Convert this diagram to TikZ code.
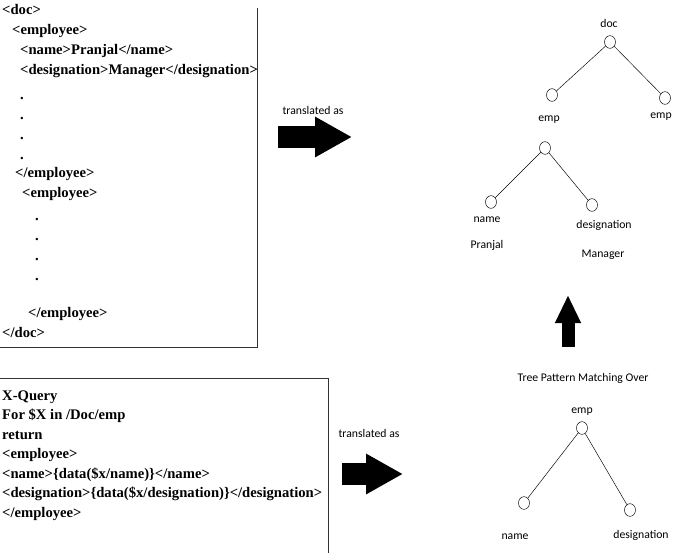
\documentclass[tikz,border=0pt]{standalone}
\usepackage{fontspec}
\setmainfont{Liberation Serif}
\newfontfamily\calib{Carlito}
\usetikzlibrary{shapes.geometric,arrows.meta}
\tikzset{
  code/.style={anchor=mid west, inner sep=0pt, font=\bfseries\fontsize{12.5}{14}\selectfont},
  lbl/.style={inner sep=0pt, font=\calib\fontsize{10}{12}\selectfont},
  knot/.style={draw, ellipse, minimum width=0.33cm, minimum height=0.38cm, inner sep=0pt, thin},
  edge/.style={draw, thin},
  blkarrow/.style={line width=0.66cm, -{Triangle[length=1.11cm, width=1.14cm]}},
}

\begin{document}
\begin{tikzpicture}[x=0.03cm, y=-0.03cm]
\useasboundingbox (0,0) rectangle (674,552);

% XML文書
\draw[black!80] (0,347) -| (257,8);
\node[code] (x1) at (2,12) {<doc>};
\node[code] (x2) at (12,32) {<employee>};
\node[code] (x3) at (20,52) {<name>Pranjal</name>};
\node[code] (x4) at (20,72) {<designation>Manager</designation>};
\node[code] (x5) at (20,97) {.};
\node[code] (x6) at (20,117) {.};
\node[code] (x7) at (20,137) {.};
\node[code] (x8) at (20,157) {.};
\node[code] (x9) at (15,175) {</employee>};
\node[code] (x10) at (22,195) {<employee>};
\node[code] (x11) at (35,218) {.};
\node[code] (x12) at (35,238) {.};
\node[code] (x13) at (35,258) {.};
\node[code] (x14) at (35,278) {.};
\node[code] (x15) at (28,315) {</employee>};
\node[code] (x16) at (2,335) {</doc>};

% X-Query
\draw[black!80] (0,378) -| (328,560);
\node[code] (q1) at (2,398) {X-Query};
\node[code] (q2) at (2,417) {For \$X in /Doc/emp};
\node[code] (q3) at (2,437) {return};
\node[code] (q4) at (2,456) {<employee>};
\node[code] (q5) at (2,476) {<name>\{data(\$x/name)\}</name>};
\node[code] (q6) at (2,495) {<designation>\{data(\$x/designation)\}</designation>};
\node[code] (q7) at (2,515) {</employee>};

% 矢印
\node[lbl] (tr1) at (313,110) {translated as};
\coordinate (a1s) at (278,137);
\coordinate (a1e) at (352,137);
\draw[blkarrow] (a1s) -- (a1e);

\node[lbl] (tr2) at (369,433) {translated as};
\coordinate (a2s) at (342,474);
\coordinate (a2e) at (403,474);
\draw[blkarrow] (a2s) -- (a2e);

\coordinate (a3s) at (568,347);
\coordinate (a3e) at (568,295);
\draw[line width=0.39cm, -{Triangle[length=0.84cm, width=0.72cm]}] (a3s) -- (a3e);

% 文書の木
\node[knot] (tdoc) at (610,42) {};
\node[knot] (temp1) at (552,95) {};
\node[knot] (temp2) at (665,98) {};
\node[knot] (tsub) at (545,148) {};
\node[knot] (tname) at (491,202) {};
\node[knot] (tdesig) at (592,205) {};
\draw[edge] (tdoc) -- (temp1);
\draw[edge] (tdoc) -- (temp2);
\draw[edge] (tsub) -- (tname);
\draw[edge] (tsub) -- (tdesig);
\node[lbl] (ldoc) at (609,23) {doc};
\node[lbl] (lemp1) at (549,120) {emp};
\node[lbl] (lemp2) at (661,117) {emp};
\node[lbl] (lname) at (487,220) {name};
\node[lbl] (ldesig) at (604,225) {designation};
\node[lbl] (lpr) at (487,245) {Pranjal};
\node[lbl] (lman) at (603,255) {Manager};

% パターンの木
\node[lbl] (ltpm) at (583,378) {Tree Pattern Matching Over};
\node[knot] (bemp) at (582,428) {};
\node[knot] (bname) at (524,503) {};
\node[knot] (bdesig) at (630,510) {};
\draw[edge] (bemp) -- (bname);
\draw[edge] (bemp) -- (bdesig);
\node[lbl] (lbemp) at (582,412) {emp};
\node[lbl] (lbname) at (515,537) {name};
\node[lbl] (lbdesig) at (641,535) {designation};
\end{tikzpicture}
\end{document}
